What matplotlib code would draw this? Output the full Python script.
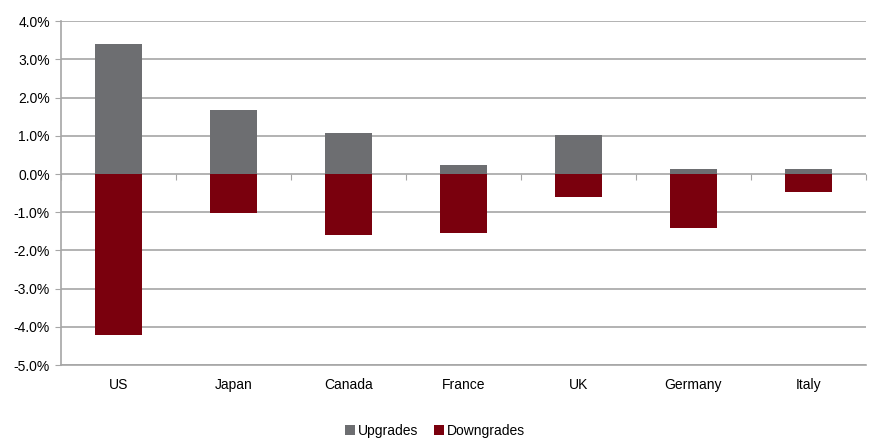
import matplotlib
matplotlib.use("Agg")
import matplotlib.pyplot as plt
import numpy as np

plt.rcParams['font.family'] = ['Liberation Sans', 'DejaVu Sans']

countries = ['US', 'Japan', 'Canada', 'France', 'UK', 'Germany', 'Italy']
upgrades = [3.40, 1.67, 1.08, 0.24, 1.03, 0.12, 0.12]
downgrades = [-4.20, -1.01, -1.59, -1.53, -0.60, -1.41, -0.46]

grey = '#6d6e71'
red = '#7a000d'
line_col = '#a6a6a6'

fig = plt.figure(figsize=(8.7, 4.41), dpi=100)
ax = fig.add_axes([0.0701, 0.172, 0.925, 0.780])

x = np.arange(len(countries))
ax.bar(x, upgrades, width=0.41, color=grey, label='Upgrades', zorder=3)
ax.bar(x, downgrades, width=0.41, color=red, label='Downgrades', zorder=3)

ax.set_ylim(-5, 4)
ax.set_xlim(-0.5, len(countries) - 0.5)
ax.set_yticks(np.arange(-5, 5, 1))
ax.set_yticklabels([f'{v:.1f}%' for v in np.arange(-5, 5, 1)])
ax.yaxis.grid(True, color=line_col, linewidth=1.2, zorder=0)

for side in ['top', 'right']:
    ax.spines[side].set_visible(False)
for side in ['left', 'bottom']:
    ax.spines[side].set_color(line_col)
    ax.spines[side].set_linewidth(1.2)

ax.tick_params(axis='y', length=4, color=line_col, labelsize=10, pad=4)
ax.tick_params(axis='x', length=0, labelsize=10, pad=9)
ax.set_xticks(x)
ax.set_xticklabels(countries)

# category separators sit on the zero line
sec = ax.secondary_xaxis(5 / 9)
sec.xaxis.set_ticks_position('bottom')
sec.set_xticks(np.arange(-0.5, len(countries), 1))
sec.set_xticklabels([])
sec.tick_params(axis='x', direction='out', length=4, color=line_col)
sec.spines['bottom'].set_visible(False)
sec.spines['top'].set_visible(False)

fig.legend(loc='lower center', bbox_to_anchor=(0.5, -0.022), ncol=2, frameon=False,
           fontsize=10, handlelength=0.7, handleheight=0.7, handletextpad=0.2,
           columnspacing=1.2)

fig.savefig('out.png', dpi=100)
